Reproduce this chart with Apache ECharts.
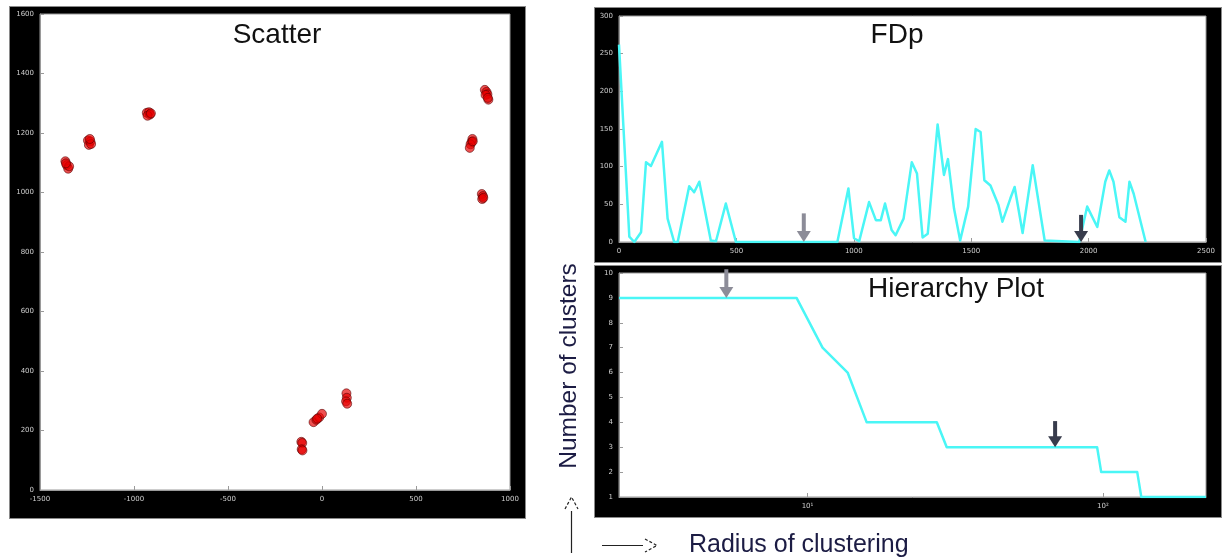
<!DOCTYPE html>
<html>
<head>
<meta charset="utf-8">
<script src="https://cdn.jsdelivr.net/npm/echarts@6/dist/echarts.min.js"></script>
<style>
  html, body { margin: 0; padding: 0; background: #ffffff; }
  #wrap { position: relative; width: 1223px; height: 559px; overflow: hidden; }
  .frame { position: absolute; background: #000; box-sizing: border-box; border: 1px solid #8a8a8a; }
  #chart { position: absolute; left: 0; top: 0; width: 1223px; height: 559px; }
</style>
</head>
<body>
<div id="wrap">
  <div class="frame" style="left:9px;top:6px;width:517px;height:513px;"></div>
  <div class="frame" style="left:594px;top:7px;width:628px;height:256px;"></div>
  <div class="frame" style="left:594px;top:265px;width:628px;height:253px;"></div>
  <div id="chart"></div>
</div>
<script>
// ---------- Scatter data (x, y) per cluster ----------
const scatterX = [
  -1365, -1358, -1350, -1345, -1362,
  -1245, -1232, -1240, -1228, -1235,
  -932, -920, -915, -928, -910,
  866, 875, 880, 870, 885, 882,
  800, 796, 790, 786, 802,
  850, 856, 852, 858,
  130, 132, 128, 134,
  -45, -30, -15, 0, -25,
  -110, -105, -108, -104
];
const scatterY = [
  1105, 1092, 1080, 1088, 1098,
  1175, 1172, 1160, 1163, 1180,
  1268, 1270, 1262, 1258, 1266,
  1345, 1338, 1330, 1328, 1312, 1318,
  1180, 1170, 1162, 1150, 1172,
  995, 988, 978, 982,
  325, 310, 298, 290,
  228, 236, 244, 256, 240,
  162, 158, 137, 133
];
const scatterXTicks = [-1500, -1000, -500, 0, 500, 1000];
const scatterYTicks = [0, 200, 400, 600, 800, 1000, 1200, 1400, 1600];

// ---------- FDp data ----------
const fdpX = [0, 44, 65, 94, 115, 136, 183, 207, 235, 250, 299, 320, 342, 391, 413, 455, 498,
  930, 977, 1001, 1023, 1065, 1094, 1115, 1133, 1161, 1178, 1212, 1247, 1269, 1293, 1315,
  1357, 1384, 1401, 1427, 1453, 1487, 1519, 1540, 1556, 1582, 1616, 1633, 1667, 1685, 1719,
  1762, 1813, 1960, 1994, 2037, 2071, 2088, 2106, 2131, 2157, 2174, 2192, 2243];
const fdpY = [262, 7, 0, 13, 106, 101, 133, 31, 0, 0, 74, 66, 80, 2, 1, 51, 0,
  0, 71, 5, 1, 53, 29, 29, 51, 16, 9, 31, 106, 91, 6, 11,
  156, 89, 110, 44, 2, 47, 150, 146, 82, 75, 49, 27, 58, 73, 12,
  102, 2, 0, 47, 20, 80, 95, 80, 33, 27, 80, 64, 0];
const fdpXTicks = [0, 500, 1000, 1500, 2000, 2500];
const fdpYTicks = [0, 50, 100, 150, 200, 250, 300];
// arrows: [x, yTop, yTip]
const fdpArrowGray = [787, 38, 0];
const fdpArrowDark = [1968, 36, 0];

// ---------- Hierarchy data ----------
const hierX = [2.30, 9.18, 11.24, 13.67, 15.86, 27.4, 29.6, 95.6, 98.7, 130.7, 134.9, 223.4];
const hierY = [9, 9, 7, 6, 4, 4, 3, 3, 2, 2, 1, 1];
const hierYTicks = [1, 2, 3, 4, 5, 6, 7, 8, 9, 10];
const hierArrowGray = [5.31, 10.15, 9];
const hierArrowDark = [68.9, 4.05, 3];

// ---------- texts ----------
const titles = { scatter: 'Scatter', fdp: 'FDp', hier: 'Hierarchy Plot' };
const yTitle = 'Number of clusters';
const xTitle = 'Radius of clustering';

const chart = echarts.init(document.getElementById('chart'), null, { renderer: 'canvas' });

const plainFmt = function (v) { return String(v); };
const tickLabel = { color: '#cfcfcf', fontSize: 7, fontFamily: 'DejaVu Sans', margin: 6, formatter: plainFmt };
const tickStyle = { show: true, inside: true, length: 4, lineStyle: { color: '#9a9a9a', width: 1 } };
const axisLineStyle = { show: true, onZero: false, lineStyle: { color: '#9a9a9a', width: 1 } };

function arrowRender(color) {
  return function (params, api) {
    const top = api.coord([api.value(0), api.value(1)]);
    const tip = api.coord([api.value(0), api.value(2)]);
    const headH = 11, headW = 7;
    return {
      type: 'group',
      children: [
        { type: 'line', shape: { x1: top[0], y1: top[1], x2: tip[0], y2: tip[1] - headH + 1 },
          style: { stroke: color, lineWidth: 4 } },
        { type: 'polygon', shape: { points: [[tip[0] - headW, tip[1] - headH], [tip[0] + headW, tip[1] - headH], [tip[0], tip[1]]] },
          style: { fill: color } }
      ]
    };
  };
}

const supers = { '0': '⁰', '1': '¹', '2': '²', '3': '³', '4': '⁴', '5': '⁵' };

const option = {
  backgroundColor: 'transparent',
  animation: false,
  grid: [
    { left: 40, top: 14, width: 470, height: 476, show: true, backgroundColor: '#fff', borderColor: '#9a9a9a', borderWidth: 1 },
    { left: 619, top: 16, width: 587, height: 226, show: true, backgroundColor: '#fff', borderColor: '#9a9a9a', borderWidth: 1 },
    { left: 619, top: 273, width: 587, height: 224, show: true, backgroundColor: '#fff', borderColor: '#9a9a9a', borderWidth: 1 }
  ],
  xAxis: [
    { gridIndex: 0, type: 'value', min: scatterXTicks[0], max: scatterXTicks[scatterXTicks.length - 1], interval: 500,
      axisLine: axisLineStyle, axisTick: tickStyle, splitLine: { show: false }, axisLabel: tickLabel },
    { gridIndex: 1, type: 'value', min: fdpXTicks[0], max: fdpXTicks[fdpXTicks.length - 1], interval: 500,
      axisLine: axisLineStyle, axisTick: tickStyle, splitLine: { show: false }, axisLabel: tickLabel },
    { gridIndex: 2, type: 'log', logBase: 10, min: hierX[0], max: hierX[hierX.length - 1],
      axisLine: axisLineStyle, axisTick: tickStyle, splitLine: { show: false },
      axisLabel: Object.assign({}, tickLabel, {
        showMinLabel: false, showMaxLabel: false,
        formatter: function (v) {
          const e = Math.log10(v);
          if (Math.abs(e - Math.round(e)) < 1e-6) return '10' + (supers[String(Math.round(e))] || '');
          return '';
        }
      }) }
  ],
  yAxis: [
    { gridIndex: 0, type: 'value', min: scatterYTicks[0], max: scatterYTicks[scatterYTicks.length - 1], interval: 200,
      axisLine: axisLineStyle, axisTick: tickStyle, splitLine: { show: false }, axisLabel: tickLabel },
    { gridIndex: 1, type: 'value', min: fdpYTicks[0], max: fdpYTicks[fdpYTicks.length - 1], interval: 50,
      axisLine: axisLineStyle, axisTick: tickStyle, splitLine: { show: false }, axisLabel: tickLabel },
    { gridIndex: 2, type: 'value', min: hierYTicks[0], max: hierYTicks[hierYTicks.length - 1], interval: 1,
      axisLine: axisLineStyle, axisTick: tickStyle, splitLine: { show: false }, axisLabel: tickLabel }
  ],
  series: [
    { type: 'scatter', xAxisIndex: 0, yAxisIndex: 0,
      data: scatterX.map((x, i) => [x, scatterY[i]]),
      symbol: 'circle', symbolSize: 9,
      itemStyle: { color: 'rgba(232,0,0,0.85)', borderColor: 'rgba(80,0,0,0.7)', borderWidth: 1 } },
    { type: 'line', xAxisIndex: 1, yAxisIndex: 1,
      data: fdpX.map((x, i) => [x, fdpY[i]]),
      showSymbol: false, symbol: 'none',
      lineStyle: { color: '#4af6f6', width: 2.5, join: 'round' } },
    { type: 'custom', xAxisIndex: 1, yAxisIndex: 1, clip: false, z: 5,
      data: [fdpArrowGray], renderItem: arrowRender('#8c8c98') },
    { type: 'custom', xAxisIndex: 1, yAxisIndex: 1, clip: false, z: 5,
      data: [fdpArrowDark], renderItem: arrowRender('#383c4c') },
    { type: 'line', xAxisIndex: 2, yAxisIndex: 2,
      data: hierX.map((x, i) => [x, hierY[i]]),
      showSymbol: false, symbol: 'none',
      lineStyle: { color: '#4af6f6', width: 2.5, join: 'round' } },
    { type: 'custom', xAxisIndex: 2, yAxisIndex: 2, clip: false, z: 5,
      data: [hierArrowGray], renderItem: arrowRender('#8c8c98') },
    { type: 'custom', xAxisIndex: 2, yAxisIndex: 2, clip: false, z: 5,
      data: [hierArrowDark], renderItem: arrowRender('#383c4c') }
  ],
  graphic: [
    { type: 'text', x: 277, y: 35, z: 10,
      style: { text: titles.scatter, fill: '#111', font: '28px "Liberation Sans", Arial, sans-serif', textAlign: 'center', textVerticalAlign: 'middle' } },
    { type: 'text', x: 897, y: 35, z: 10,
      style: { text: titles.fdp, fill: '#111', font: '28px "Liberation Sans", Arial, sans-serif', textAlign: 'center', textVerticalAlign: 'middle' } },
    { type: 'text', x: 956, y: 289, z: 10,
      style: { text: titles.hier, fill: '#111', font: '28px "Liberation Sans", Arial, sans-serif', textAlign: 'center', textVerticalAlign: 'middle' } },
    { type: 'text', x: 569, y: 366, rotation: Math.PI / 2, z: 10,
      style: { text: yTitle, fill: '#1c1c44', font: '24.5px "Liberation Sans", Arial, sans-serif', textAlign: 'center', textVerticalAlign: 'middle' } },
    { type: 'text', x: 689, y: 545, z: 10,
      style: { text: xTitle, fill: '#1c1c44', font: '25px "Liberation Sans", Arial, sans-serif', textAlign: 'left', textVerticalAlign: 'middle' } },
    // horizontal arrow decoration
    { type: 'line', z: 10, shape: { x1: 602, y1: 545.5, x2: 643, y2: 545.5 }, style: { stroke: '#222', lineWidth: 1.2 } },
    { type: 'polyline', z: 10, shape: { points: [[645, 539], [657, 545.5], [645, 552]] }, style: { stroke: '#222', lineWidth: 1.2, lineDash: [3, 2], fill: null } },
    // vertical arrow decoration
    { type: 'line', z: 10, shape: { x1: 571.5, y1: 553, x2: 571.5, y2: 511 }, style: { stroke: '#222', lineWidth: 1.2 } },
    { type: 'polyline', z: 10, shape: { points: [[565, 509], [571.5, 497], [578, 509]] }, style: { stroke: '#222', lineWidth: 1.2, lineDash: [3, 2], fill: null } }
  ]
};
chart.setOption(option);
</script>
</body>
</html>
